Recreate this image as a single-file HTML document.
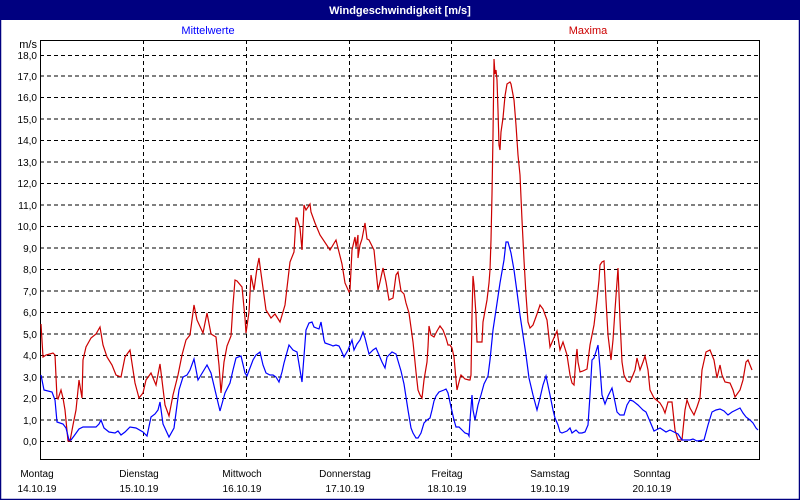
<!DOCTYPE html>
<html><head><meta charset="utf-8"><style>
html,body{margin:0;padding:0;background:#fff;}
svg{display:block;font-family:"Liberation Sans","DejaVu Sans",sans-serif;}
</style></head><body>
<svg width="800" height="500" viewBox="0 0 800 500" xmlns="http://www.w3.org/2000/svg">
<rect x="0" y="0" width="800" height="500" fill="#fff"/>
<rect x="0.5" y="0.5" width="799" height="499" fill="none" stroke="#000080" stroke-width="1.5"/>
<rect x="0" y="0" width="800" height="20" fill="#000080"/>
<text x="400" y="14" fill="#fff" font-size="11" font-weight="bold" text-anchor="middle">Windgeschwindigkeit [m/s]</text>
<text x="208" y="34" fill="#0000ff" font-size="11" text-anchor="middle">Mittelwerte</text>
<text x="588" y="34" fill="#cc0000" font-size="11" text-anchor="middle">Maxima</text>
<text x="37" y="48" font-size="11" text-anchor="end">m/s</text>
<g stroke="#000" stroke-width="1" stroke-dasharray="4,3" fill="none">
<path d="M40 441.5H760M40 420H760M40 398.5H760M40 377H760M40 355.5H760M40 334H760M40 312.5H760M40 291H760M40 269.5H760M40 248H760M40 226.5H760M40 205H760M40 183.5H760M40 162H760M40 140.5H760M40 119H760M40 97.5H760M40 76H760M40 55.5H760"/>
<path d="M143.5 40V460M246.5 40V460M349.5 40V460M451.5 40V460M554.5 40V460M657.5 40V460"/>
</g>
<g font-size="10" text-anchor="end" fill="#000">
<text x="37" y="445">0,0</text><text x="37" y="424">1,0</text><text x="37" y="402">2,0</text><text x="37" y="381">3,0</text><text x="37" y="359">4,0</text><text x="37" y="338">5,0</text><text x="37" y="316">6,0</text><text x="37" y="295">7,0</text><text x="37" y="273">8,0</text><text x="37" y="252">9,0</text><text x="37" y="230">10,0</text><text x="37" y="209">11,0</text><text x="37" y="187">12,0</text><text x="37" y="166">13,0</text><text x="37" y="144">14,0</text><text x="37" y="123">15,0</text><text x="37" y="101">16,0</text><text x="37" y="80">17,0</text><text x="37" y="59">18,0</text>
</g>
<rect x="40.5" y="40.5" width="719" height="419" fill="none" stroke="#000" stroke-width="1"/>
<g font-size="10" text-anchor="middle" fill="#000">
<text x="37" y="477">Montag</text><text x="37" y="492">14.10.19</text>
<text x="139" y="477">Dienstag</text><text x="139" y="492">15.10.19</text>
<text x="242" y="477">Mittwoch</text><text x="242" y="492">16.10.19</text>
<text x="345" y="477">Donnerstag</text><text x="345" y="492">17.10.19</text>
<text x="447" y="477">Freitag</text><text x="447" y="492">18.10.19</text>
<text x="550" y="477">Samstag</text><text x="550" y="492">19.10.19</text>
<text x="652" y="477">Sonntag</text><text x="652" y="492">20.10.19</text>
</g>
<polyline fill="none" stroke="#cc0000" stroke-width="1.2" points="41,324 43,357 46,355 53,353 55,355 57,398 58,399 61,390 63,398 65,410 68,441 70,441 73,425 76,410 79,380 82,398 83,360 86,347 91,338 96,334 100,327 103,345 107,357 112,365 116,375 121,377 125,357 130,350 135,383 139,398 143,393 146,380 151,373 156,385 160,364 165,405 169,416 173,395 178,375 182,355 186,340 190,335 194,305 197,320 203,333 207,313 211,334 216,337 219,365 221,393 224,362 227,346 231,336 233,305 235,280 237,281 242,287 245,318 246,333 249,312 251,275 253,285 254,290 257,268 259,258 260,266 266,310 271,318 275,314 280,322 285,305 290,262 294,252 296,218 297,218 300,228 302,250 304,205 306,210 310,204 311,212 315,223 320,235 330,250 336,240 342,264 345,283 349,292 350,290 352,250 355,237 356,247 358,235 358,258 360,245 362,239 365,223 367,239 369,240 374,250 376,270 378,290 380,282 383,268 386,282 389,300 393,298 396,275 398,272 401,291 402,292 404,294 406,303 409,313 413,342 416,372 418,390 420,395 422,398 424,380 427,362 428,347 429,326 431,335 434,337 437,331 440,326 443,330 446,338 448,345 450,345 452,348 454,357 456,380 457,390 460,378 461,375 465,379 469,380 470,380 471,375 472,315 473,276 474,285 476,315 477,342 482,342 483,322 487,300 489,283 490,270 491,240 492,194 493,135 494,62 494,59 495,74 496,70 497,80 498,110 499,145 500,150 501,132 503,118 505,96 507,84 510,82 511,84 514,100 516,125 518,155 520,175 522,220 524,260 526,295 528,322 530,328 533,325 537,314 540,305 543,309 547,320 550,347 553,340 557,331 560,350 563,342 567,355 570,375 572,383 574,385 576,358 577,349 578,362 580,372 583,371 587,369 590,345 594,325 597,300 599,280 600,265 602,262 604,261 606,300 608,335 611,360 613,340 615,310 617,282 618,268 620,320 622,362 624,375 627,381 630,382 633,375 635,370 637,358 640,370 643,362 645,356 648,370 650,390 654,398 660,403 663,408 665,413 668,402 672,402 675,430 678,440 682,440 685,410 687,400 690,408 694,415 697,407 700,398 702,370 706,352 710,350 714,360 717,378 720,365 722,375 725,382 730,383 733,390 735,397 740,390 743,380 746,362 748,360 750,365 752,370"/>
<polyline fill="none" stroke="#0000ff" stroke-width="1.2" points="41,375 44,390 52,392 55,400 57,422 63,424 66,428 69,440 71,440 74,436 79,429 83,427 96,427 99,424 101,420 104,428 109,432 115,433 118,431 121,435 125,432 130,427 136,428 143,432 147,436 151,417 155,414 158,410 160,402 163,424 169,437 174,428 179,390 183,377 187,375 190,370 194,359 198,380 201,375 207,365 211,373 215,390 220,411 225,393 230,383 233,370 236,358 241,356 245,373 247,376 253,360 256,355 260,352 263,365 266,373 270,375 273,375 276,377 279,382 282,372 284,363 289,345 293,350 297,352 302,382 306,330 309,323 312,322 314,327 319,329 321,322 324,340 325,343 331,345 333,346 336,345 339,346 341,350 344,357 348,350 352,340 354,350 357,344 360,340 363,332 365,338 369,354 373,350 376,348 379,355 382,362 385,368 387,357 392,352 396,354 401,371 404,384 408,410 411,428 413,433 416,438 418,438 421,433 424,423 427,420 430,418 432,410 434,401 436,396 439,392 444,390 446,389 448,393 451,407 454,420 456,427 459,427 462,430 465,433 468,434 469,436 470,420 472,395 473,410 475,420 478,405 481,395 484,384 488,376 490,360 493,330 496,310 500,283 504,260 506,242 508,242 511,253 514,270 517,292 520,315 523,335 526,355 529,378 533,395 537,410 540,398 543,385 546,376 550,395 553,410 555,418 558,425 560,432 562,433 567,431 570,428 572,433 576,430 579,433 582,433 585,432 588,425 590,395 592,360 594,358 598,345 600,368 602,395 605,404 608,396 612,388 615,402 617,412 620,415 624,415 627,405 630,400 633,401 638,405 641,408 643,410 646,412 654,431 656,430 660,428 663,430 666,432 670,430 674,432 678,434 682,440 690,440 693,439 697,441 704,440 708,425 712,412 716,410 720,409 724,411 728,415 732,412 736,410 740,408 743,413 746,417 750,420 753,423 756,428 758,430"/>
</svg>
</body></html>
